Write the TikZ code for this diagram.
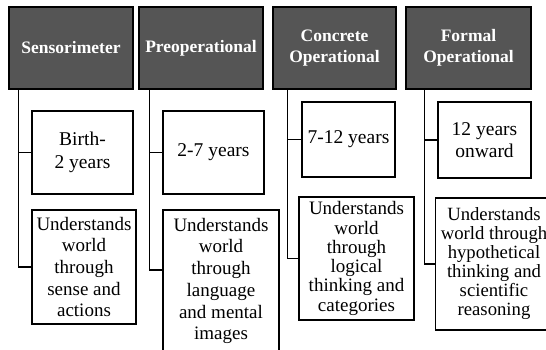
\documentclass[tikz,border=0pt]{standalone}
\usepackage{fontspec}
\setmainfont{Liberation Serif}
\usepackage{tikz}

\definecolor{stagegray}{HTML}{555555}

\begin{document}
\begin{tikzpicture}[x=1pt,y=-1pt,
		stage/.style={draw=black, fill=stagegray, line width=1.2pt, text=white,
			align=center, inner sep=0pt, minimum height=82pt,
			font=\fontsize{17.5}{21.5}\selectfont\bfseries},
		age/.style={draw=black, fill=white, line width=1.2pt, align=center,
			inner sep=0pt, font=\fontsize{19.5}{22.5}\selectfont},
		info/.style={draw=black, fill=white, line width=1.2pt, align=center,
			inner sep=0pt, font=\fontsize{19}{21.7}\selectfont},
		link/.style={line width=1.2pt}]
		
		\useasboundingbox (0,0) rectangle (546,349);
		\clip (0,0) rectangle (546,349);
		
		% stage headers
		\node[stage, minimum width=124pt] (hS) at (71,48) {Sensorimeter};
		\node[stage, minimum width=124pt] (hP) at (201,48) {Preoperational};
		\node[stage, minimum width=123pt] (hC) at (334.5,48) {Concrete\\Operational};
		\node[stage, minimum width=125pt] (hF) at (468.5,48) {Formal\\Operational};
		
		% ages
		\node[age, minimum width=101pt, minimum height=83pt] (aS) at (82.5,152.5) {Birth-\\2 years};
		\node[age, minimum width=101pt, minimum height=83pt] (aP) at (213.5,152.5) {2-7 years};
		\node[age, minimum width=93pt, minimum height=75pt] (aC) at (348.5,139.5) {7-12 years};
		\node[age, minimum width=93pt, minimum height=76pt] (aF) at (484.5,140) {12 years\\onward};
		
		% how the world is understood
		\node[info, minimum width=104pt, minimum height=114pt] (dS) at (84,267)
		{Understands\\world\\through\\sense and\\actions};
		\node[info, minimum width=116pt, minimum height=142pt] (dP) at (221,281)
		{Understands\\world\\through\\language\\and mental\\images};
		\node[info, minimum width=115pt, minimum height=123pt,
		font=\fontsize{19}{19.3}\selectfont] (dC) at (356.5,258.5)
		{Understands\\world\\through\\logical\\thinking and\\categories};
		\node[info, minimum width=117pt, minimum height=132pt,
		font=\fontsize{18.7}{19}\selectfont] (dF) at (494,264)
		{Understands\\world through\\hypothetical\\thinking and\\scientific\\reasoning};
		
		% trunks
		\coordinate (tS) at ([xshift=10pt]hS.south west);
		\coordinate (tP) at ([xshift=11pt]hP.south west);
		\coordinate (tC) at ([xshift=15pt]hC.south west);
		\coordinate (tF) at ([xshift=19pt]hF.south west);
		
		\draw[link] (tS) |- (dS.west);
		\draw[link] (tS |- aS.west) -- (aS.west);
		\draw[link] (tP) |- ([yshift=11pt]dP.west);
		\draw[link] (tP |- aP.west) -- (aP.west);
		\draw[link] (tC) |- (dC.west);
		\draw[link] (tC |- aC.west) -- (aC.west);
		\draw[link] (tF) |- (dF.west);
		\draw[link] (tF |- aF.west) -- (aF.west);
		
	\end{tikzpicture}
\end{document}
